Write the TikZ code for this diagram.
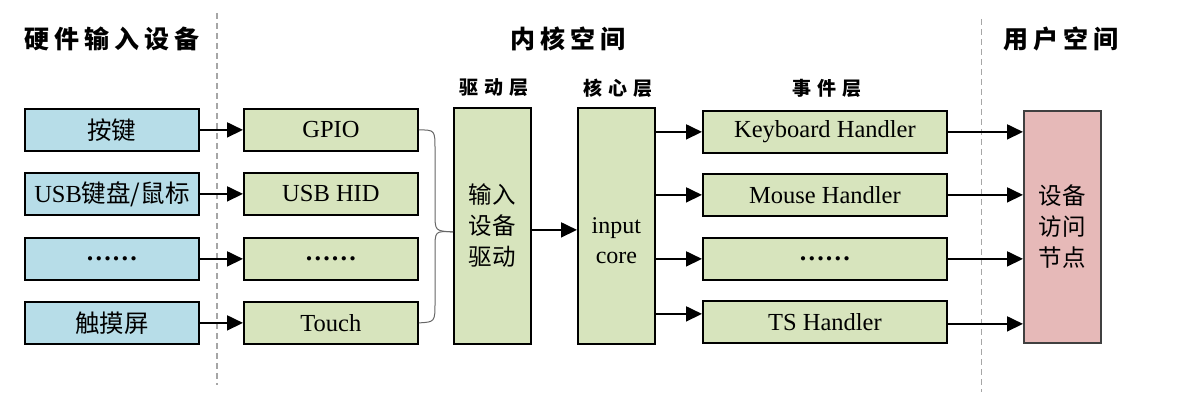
\documentclass[tikz,border=0pt]{standalone}
\usepackage{fontspec}
\setmainfont{Liberation Serif}
\newfontfamily\cjk{Noto Sans CJK SC}
\newfontfamily\cjkt[LetterSpace=20]{Noto Sans CJK SC}
\newfontfamily\cjkl[LetterSpace=32]{Noto Sans CJK SC}
\usetikzlibrary{arrows.meta,calc}
\definecolor{hwblue}{HTML}{B7DDE8}
\definecolor{kgreen}{HTML}{D7E4BD}
\definecolor{upink}{HTML}{E6B9B8}
\tikzset{
  box/.style={draw=black, line width=1.8pt, anchor=north west, minimum width=174pt, minimum height=42pt, inner sep=0pt, font=\fontsize{24.5}{28}\selectfont},
  hw/.style={box, fill=hwblue},
  kb/.style={box, fill=kgreen},
  tall/.style={draw=black, line width=1.8pt, anchor=north west, minimum width=77pt, minimum height=236pt, inner sep=0pt, fill=kgreen, align=center, font=\fontsize{23.5}{31}\selectfont},
  txt/.style={inner sep=0pt, align=center, font=\fontsize{24}{30}\selectfont},
  title/.style={inner sep=0pt, font=\fontsize{25}{28}\selectfont\cjkt\bfseries},
  layer/.style={inner sep=0pt, font=\fontsize{19}{22}\selectfont\cjkl\bfseries},
  arr/.style={line width=1.8pt, -{Triangle[length=16pt,width=15pt]}},
  sep/.style={draw=gray!70, line width=1.4pt, dash pattern=on 6pt off 4pt},
  brace/.style={draw=gray!80!black, line width=1pt},
  dots/.style={font=\fontsize{26}{28}\selectfont\bfseries}
}
\begin{document}
\begin{tikzpicture}[x=1pt,y=-1pt]
\useasboundingbox (0,0) rectangle (1197,401);
% separators
\draw[sep] (217,13) -- (217,385);
\draw[sep] (981.5,19) -- (981.5,392);
% titles
\node[title] (t1) at (112,39) {硬件输入设备};
\node[title] (t2) at (568,39) {内核空间};
\node[title] (t3) at (1061,39) {用户空间};
\node[layer] (l1) at (494,88) {驱动层};
\node[layer] (l2) at (618,88) {核心层};
\node[layer] (l3) at (827,88) {事件层};
% hardware
\node[hw] (b1) at (24,108) {\cjk 按键};
\node[hw] (b2) at (24,172) {USB{\cjk 键盘/鼠标}};
\node[hw, dots] (b3) at (24,237) {……};
\node[hw] (b4) at (24,301) {\cjk 触摸屏};
% drivers
\node[kb] (g1) at (243,108) {GPIO};
\node[kb] (g2) at (243,172) {USB HID};
\node[kb, dots] (g3) at (243,237) {……};
\node[kb] (g4) at (243,301) {Touch};
% driver layer / core
\node[tall] (drv) at (453,107) {\cjk 输入\\\cjk 设备\\\cjk 驱动};
\node[tall] (core) at (577,107) {};
\node[txt] (coretxt) at ($(core.center)+(0,15)$) {input\\core};
% event handlers
\node[kb, minimum width=244pt] (e1) at (702,110) {Keyboard Handler};
\node[kb, minimum width=244pt] (e2) at (702,173) {Mouse Handler};
\node[kb, dots, minimum width=244pt] (e3) at (702,237) {……};
\node[kb, minimum width=244pt] (e4) at (702,300) {TS Handler};
% user space node
\node[tall, fill=upink, draw=black!75, minimum height=232pt] (pk) at (1023,110) {\cjk 设备\\\cjk 访问\\\cjk 节点};
% arrows hw -> drivers
\draw[arr] (b1.east) -- (g1.west);
\draw[arr] (b2.east) -- (g2.west);
\draw[arr] (b3.east) -- (g3.west);
\draw[arr] (b4.east) -- (g4.west);
% brace
\coordinate (tip) at ($(drv.west)+(0,6)$);
\draw[brace] (g1.east) .. controls (435,130) .. (435,150) -- (435,213) .. controls (435,231) .. (tip);
\draw[brace] (g4.east) .. controls (435,322) .. (435,302) -- (435,249) .. controls (435,231) .. (tip);
% driver -> core
\coordinate (dc) at ($(drv.east)+(0,4)$);
\draw[arr] (dc) -- (core.west |- dc);
% core -> events
\draw[arr] (core.east |- e1.west) -- (e1.west);
\draw[arr] (core.east |- e2.west) -- (e2.west);
\draw[arr] (core.east |- e3.west) -- (e3.west);
\coordinate (e4p) at ($(e4.west)+(0,-8)$);
\draw[arr] (core.east |- e4p) -- (e4p);
% events -> user
\draw[arr] (e1.east) -- (e1.east -| pk.west);
\draw[arr] (e2.east) -- (e2.east -| pk.west);
\draw[arr] (e3.east) -- (e3.east -| pk.west);
\coordinate (e4q) at ($(e4.east)+(0,2)$);
\draw[arr] (e4q) -- (e4q -| pk.west);
\end{tikzpicture}
\end{document}
